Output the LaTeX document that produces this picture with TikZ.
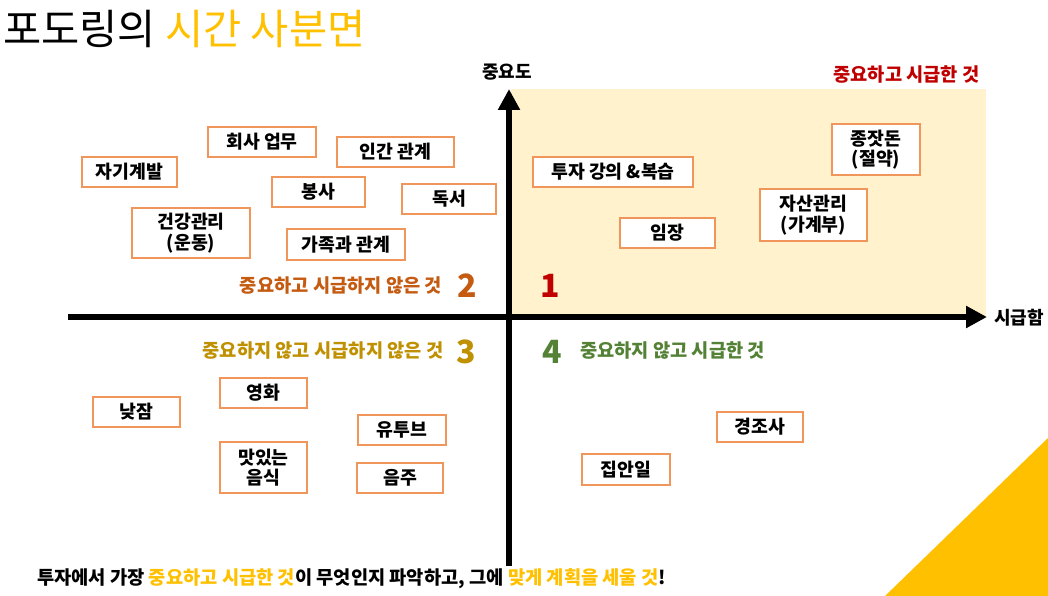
\documentclass[tikz,border=0pt]{standalone}
\usepackage{fontspec}
\setmainfont{Noto Sans CJK KR}
\usetikzlibrary{arrows.meta}
\definecolor{boxc}{RGB}{241,150,90}
\definecolor{qonefill}{HTML}{FFF2CC}
\definecolor{ttlyel}{HTML}{FFC000}
\definecolor{qred}{HTML}{C00000}
\definecolor{qorange}{HTML}{C55A11}
\definecolor{qgold}{HTML}{BF9000}
\definecolor{qgreen}{HTML}{538135}
\begin{document}
\begin{tikzpicture}[x=1pt,y=-1pt,
  box/.style={draw=boxc, line width=1.3pt, fill=white, inner sep=0pt, align=center,
    font=\fontsize{18.3}{20.5}\selectfont\bfseries, text=black},
  qlab/.style={font=\fontsize{18.7}{21}\selectfont\bfseries, inner sep=0pt},
  num/.style={font=\fontsize{32}{32}\selectfont\bfseries, inner sep=0pt},
  axlab/.style={font=\fontsize{18}{20}\selectfont\bfseries, inner sep=0pt},
  axis/.style={line width=6pt, -{Triangle[width=21pt,length=21pt]}}
]
\useasboundingbox (0,0) rectangle (1048,596);
\fill[white] (0,0) rectangle (1048,596);

% title
\node[anchor=west, inner sep=0pt, font=\fontsize{41.5}{44}\selectfont] (title) at (3,29)
  {포도링의 \textcolor{ttlyel}{시간 사분면}};

% quadrant 1 background
\fill[qonefill] (511,89) rectangle (986,317);

% axes
\coordinate (vb) at (509,566);
\coordinate (vt) at (509,89);
\coordinate (hl) at (68,317);
\coordinate (hr) at (987,317);
\draw[axis] (vb) -- (vt);
\draw[axis] (hl) -- (hr);

% axis labels
\node[axlab] (ylab) at (507,72) {중요도};
\node[axlab] (xlab) at (1019,318) {시급함};

% quadrant labels
\node[qlab, text=qred] (q1lab) at (906.5,75) {중요하고 시급한 것};
\node[qlab, text=qorange] (q2lab) at (341,286) {중요하고 시급하지 않은 것};
\node[qlab, text=qgold] (q3lab) at (323,351) {중요하지 않고 시급하지 않은 것};
\node[qlab, text=qgreen] (q4lab) at (672.5,351) {중요하지 않고 시급한 것};
\node[num, text=qred] (n1) at (550,286) {1};
\node[num, text=qorange] (n2) at (467,286) {2};
\node[num, text=qgold] (n3) at (466,352) {3};
\node[num, text=qgreen] (n4) at (552,352) {4};

% quadrant 2 boxes
\node[box, minimum width=108pt, minimum height=30pt] (b1) at (262,142) {회사 업무};
\node[box, minimum width=117pt, minimum height=30pt] (b2) at (395.5,152) {인간 관계};
\node[box, minimum width=95pt, minimum height=30pt] (b3) at (129.5,172) {자기계발};
\node[box, minimum width=93pt, minimum height=30pt] (b4) at (318.5,192) {봉사};
\node[box, minimum width=94pt, minimum height=30pt] (b5) at (449,199) {독서};
\node[box, minimum width=118pt, minimum height=50pt] (b6) at (191,233) {건강관리\\(운동)};
\node[box, minimum width=118pt, minimum height=31pt] (b7) at (346,244.5) {가족과 관계};

% quadrant 1 boxes
\node[box, minimum width=160pt, minimum height=30pt] (b8) at (613,172) {투자 강의 \&복습};
\node[box, minimum width=88pt, minimum height=51pt] (b9) at (876,149.5) {종잣돈\\(절약)};
\node[box, minimum width=95pt, minimum height=30pt] (b10) at (667.5,233) {임장};
\node[box, minimum width=107pt, minimum height=52pt] (b11) at (813.5,215) {자산관리\\(가계부)};

% quadrant 3 boxes
\node[box, minimum width=87pt, minimum height=30pt] (b12) at (263.5,393) {영화};
\node[box, minimum width=87pt, minimum height=30pt] (b13) at (136.5,412) {낮잠};
\node[box, minimum width=88pt, minimum height=30pt] (b14) at (402,430) {유투브};
\node[box, minimum width=87pt, minimum height=51pt] (b15) at (263.5,467.5) {맛있는\\음식};
\node[box, minimum width=86pt, minimum height=30pt] (b16) at (400,478) {음주};

% quadrant 4 boxes
\node[box, minimum width=86pt, minimum height=30pt] (b17) at (760,427) {경조사};
\node[box, minimum width=88pt, minimum height=31pt] (b18) at (626,469.5) {집안일};

% corner triangle
\fill[ttlyel] (885,596) -- (1048,438) -- (1048,596) -- cycle;

% bottom note
\node[anchor=west, inner sep=0pt, font=\fontsize{18.7}{21}\selectfont\bfseries] (note) at (37,579)
  {투자에서 가장 \textcolor{ttlyel}{중요하고 시급한 것}이 무엇인지 파악하고, 그에 \textcolor{ttlyel}{맞게 계획을 세울 것}!};
\end{tikzpicture}
\end{document}
